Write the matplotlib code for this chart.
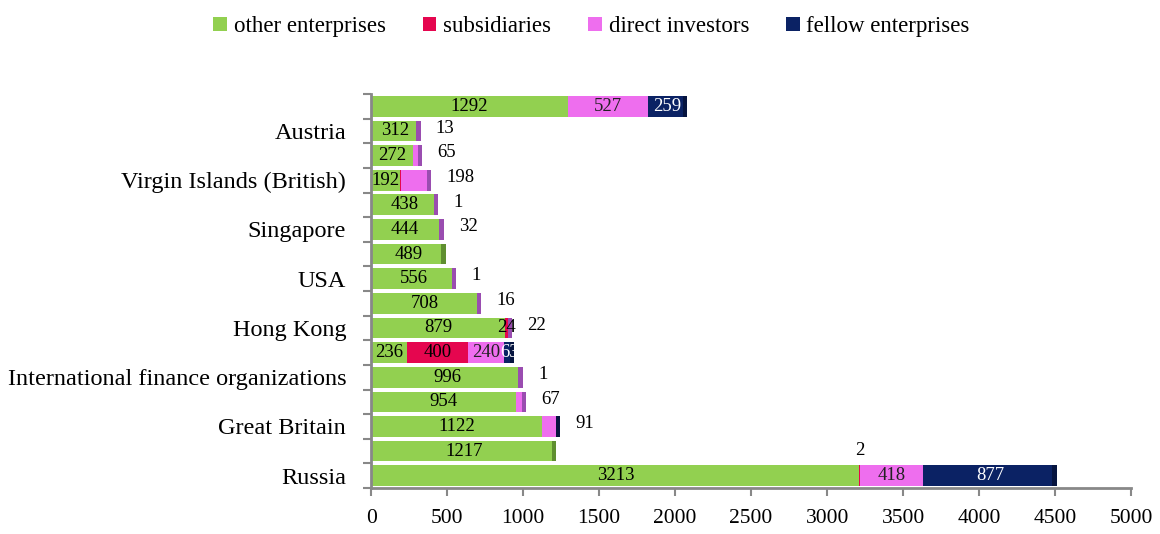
import matplotlib
matplotlib.use("Agg")
import matplotlib.pyplot as plt
from matplotlib.patches import Patch

# ===========================
# Datos (de abajo hacia arriba)
# ===========================
countries = ["Russia", "", "Great Britain", "", "International finance organizations", "",
             "Hong Kong", "", "USA", "", "Singapore", "", "Virgin Islands (British)", "",
             "Austria", ""]
other = [3213, 1217, 1122, 954, 996, 236, 879, 708, 556, 489, 444, 438, 192, 272, 312, 1292]
subsidiaries = [2, 0, 0, 0, 0, 400, 24, 0, 0, 0, 0, 0, 3, 0, 0, 0]
direct = [418, 0, 91, 67, 1, 240, 22, 16, 1, 0, 32, 1, 198, 65, 13, 527]
fellow = [877, 0, 30, 0, 0, 63, 0, 0, 0, 0, 0, 0, 0, 0, 0, 259]

series_names = ["other enterprises", "subsidiaries", "direct investors", "fellow enterprises"]
# which series carries the label written beside the bar (None = no outside label)
outside_series = [1, None, 2, 2, 2, None, 2, 2, 2, None, 2, 2, 2, 2, 2, None]
# segments labelled inside the bar: (series, bar)
inside_extra = [(1, 5), (1, 6), (2, 0), (2, 5), (2, 15), (3, 0), (3, 5), (3, 15)]

colors = ["#92D050", "#E5064F", "#EE6EEE", "#0B2264"]
end_colors = ["#5F8F30", "#A0003A", "#9A4DB0", "#06143F"]
text_colors = ["black", "black", "#222222", "white"]

plt.rcParams["font.family"] = ["Liberation Serif", "DejaVu Serif"]

fig = plt.figure(figsize=(11.6, 5.34), dpi=100)
ax = fig.add_axes([0.32, 0.086, 0.655, 0.738])

series = [other, subsidiaries, direct, fellow]
n = len(other)
ypos = list(range(n))
lefts = [0] * n
for s, vals in enumerate(series):
    ax.barh(ypos, vals, left=lefts, height=0.84, color=colors[s], edgecolor="none", zorder=2)
    lefts = [l + v for l, v in zip(lefts, vals)]

# bordes laterales (efecto 3D): color del ultimo segmento, mas oscuro
for i in range(n):
    last = max(s for s in range(4) if series[s][i] > 0)
    ax.barh(i, 28, left=lefts[i] - 28, height=0.84, color=end_colors[last],
            edgecolor="none", zorder=3)

# etiquetas dentro de las barras
for i in range(n):
    ax.text(other[i] / 2, i, str(other[i]), ha="center", va="center",
            fontsize=13.5, color="black", zorder=4)
for s, i in inside_extra:
    start = sum(series[k][i] for k in range(s))
    ax.text(start + series[s][i] / 2, i, str(series[s][i]), ha="center", va="center",
            fontsize=13.5, color=text_colors[s], zorder=4)

# etiquetas fuera de las barras
for i, s in enumerate(outside_series):
    if s is None:
        continue
    if i == 0:
        start = sum(series[k][i] for k in range(s))
        ax.annotate(str(series[s][i]), (start + series[s][i] / 2, i + 0.45),
                    xytext=(0, 4), textcoords="offset points",
                    ha="center", va="bottom", fontsize=13.5)
    else:
        ax.annotate(str(series[s][i]), (lefts[i], i), xytext=(11, 2),
                    textcoords="offset points", ha="left", va="center", fontsize=13.5)

ax.set_xlim(0, 5000)
ax.set_ylim(-0.5, n - 0.5)
ax.set_xticks(range(0, 5001, 500))
ax.tick_params(axis="x", labelsize=15.5, length=6, width=1.5, color="#888888", pad=9)

ax.set_yticks(ypos)
ax.set_yticklabels(countries)
ax.set_yticks([y - 0.5 for y in range(n + 1)], minor=True)
ax.tick_params(axis="y", which="major", length=0, labelsize=17.5, pad=18)
ax.tick_params(axis="y", which="minor", length=6, width=1.5, color="#888888")

for side in ["top", "right"]:
    ax.spines[side].set_visible(False)
for side in ["left", "bottom"]:
    ax.spines[side].set_color("#888888")
    ax.spines[side].set_linewidth(2)

handles = [Patch(facecolor=c, edgecolor="none") for c in colors]
fig.legend(handles, series_names, loc="center", bbox_to_anchor=(0.51, 0.95), ncol=4,
           frameon=False, fontsize=16.5, handlelength=0.6, handleheight=0.6,
           handletextpad=0.3, columnspacing=1.6)

fig.savefig("out.png", dpi=100)
